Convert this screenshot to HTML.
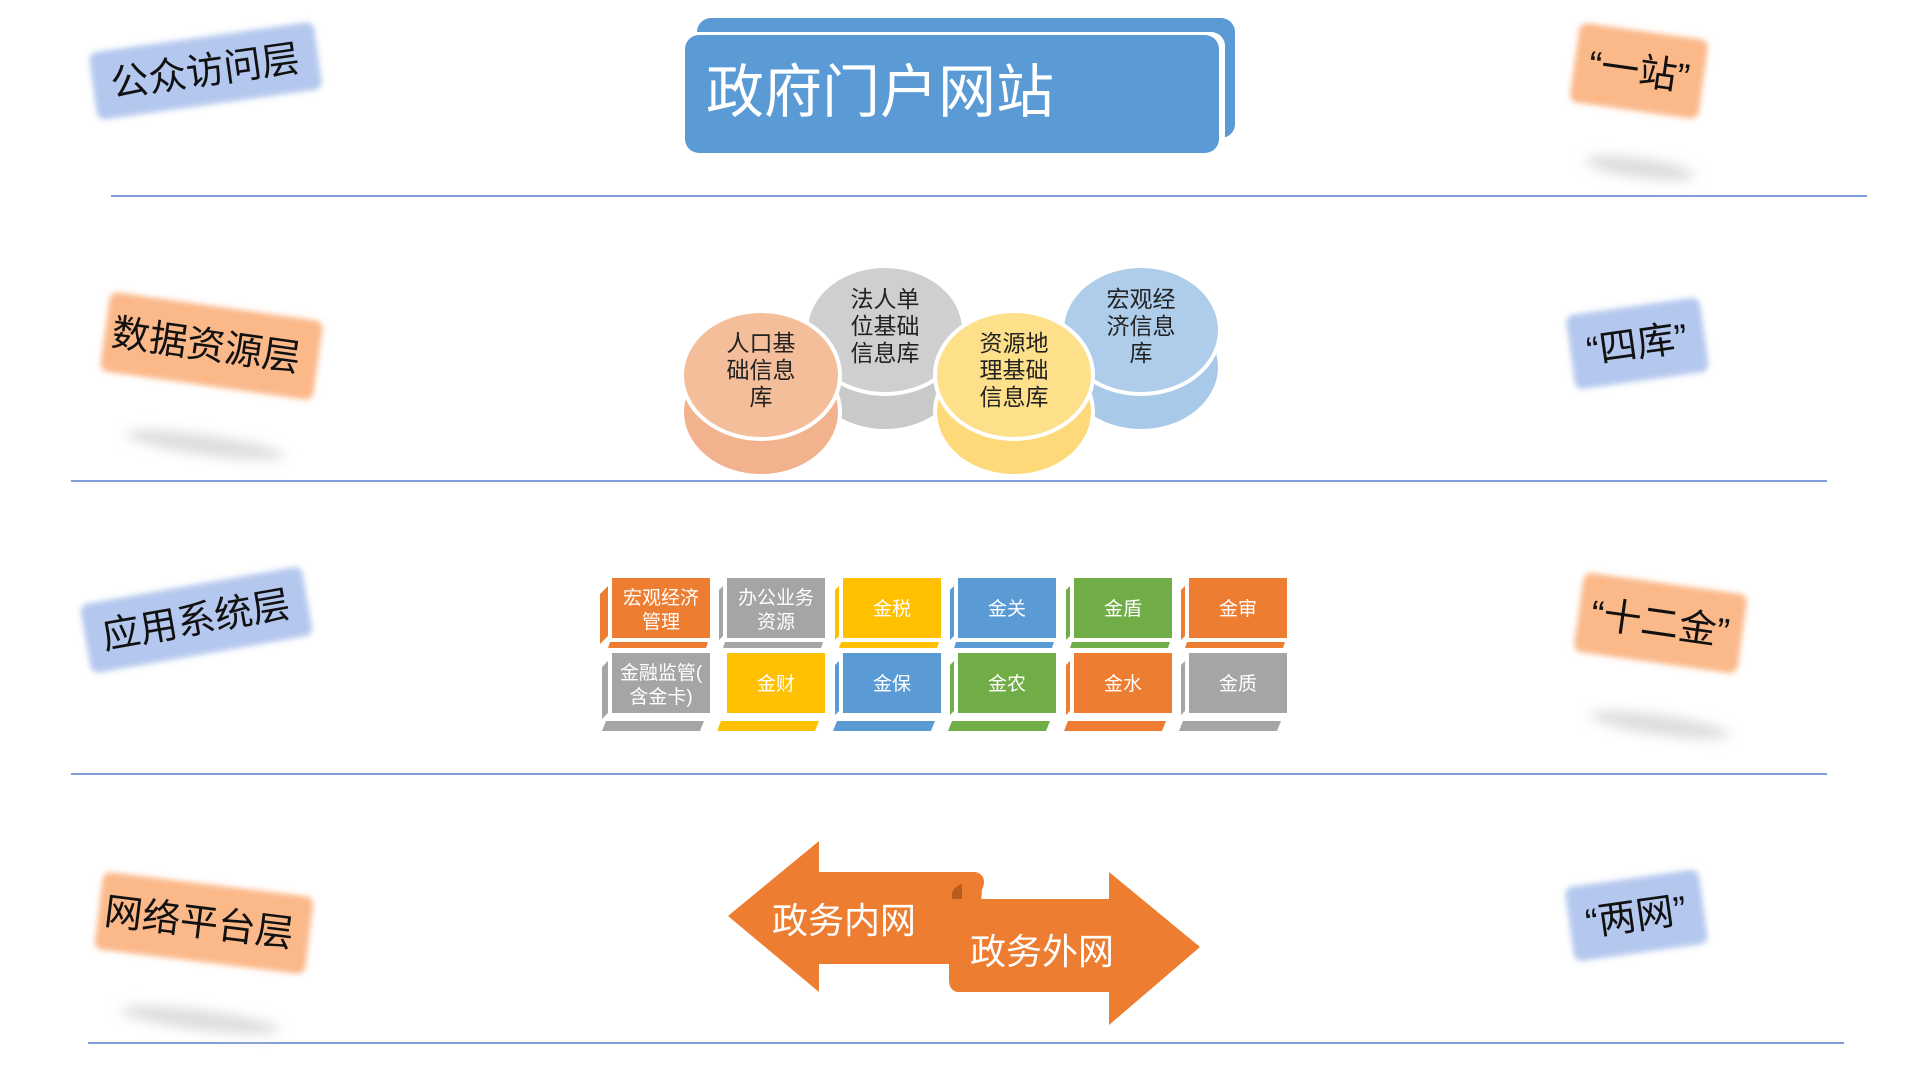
<!DOCTYPE html>
<html><head><meta charset="utf-8"><style>
html,body{margin:0;padding:0;background:#fff;width:1920px;height:1080px;overflow:hidden}
svg text{font-family:"Liberation Sans","Noto Sans CJK SC",sans-serif}
</style></head><body>
<svg width="1920" height="1080" viewBox="0 0 1920 1080" xmlns="http://www.w3.org/2000/svg">
<defs>
<filter id="bl" x="-30%" y="-30%" width="160%" height="160%"><feGaussianBlur stdDeviation="3"/></filter>
<filter id="bl2" x="-30%" y="-60%" width="160%" height="220%"><feGaussianBlur stdDeviation="6"/></filter>
</defs>
<g stroke="#7f9fd8" stroke-width="2">
<line x1="111" y1="196" x2="1867" y2="196"/>
<line x1="71" y1="481" x2="1827" y2="481"/>
<line x1="71" y1="774" x2="1827" y2="774"/>
<line x1="88" y1="1043" x2="1844" y2="1043"/>
</g>

<rect x="697" y="18" width="538" height="120" rx="14" fill="#5b9bd5"/>
<rect x="683" y="32" width="542" height="124" rx="14" fill="#fff"/>
<rect x="685" y="35" width="534" height="118" rx="14" fill="#5b9bd5"/>
<text x="706" y="112" font-size="58" fill="#fff">政府门户网站</text>

<g transform="translate(205,71) rotate(-8)">
<rect x="-113" y="-34" width="227" height="68" rx="8" fill="#b4c7ee" filter="url(#bl)"/>
<text x="0" y="13" font-size="38" text-anchor="middle" fill="#111">公众访问层</text></g>
<g transform="translate(211,346) rotate(8)">
<rect x="-107" y="-40" width="215" height="80" rx="8" fill="#fbb889" filter="url(#bl)"/>
<text x="-5" y="13" font-size="38" text-anchor="middle" fill="#111">数据资源层</text></g>
<ellipse cx="205" cy="445" rx="80" ry="10" fill="#ddd" transform="rotate(8 205 445)" filter="url(#bl2)"/>
<g transform="translate(196,620) rotate(-10)">
<rect x="-112" y="-35" width="225" height="70" rx="8" fill="#b4c7ee" filter="url(#bl)"/>
<text x="0" y="13" font-size="38" text-anchor="middle" fill="#111">应用系统层</text></g>
<g transform="translate(204,923) rotate(7)">
<rect x="-106" y="-39" width="212" height="78" rx="8" fill="#fbb889" filter="url(#bl)"/>
<text x="-5" y="13" font-size="38" text-anchor="middle" fill="#111">网络平台层</text></g>
<ellipse cx="200" cy="1020" rx="80" ry="10" fill="#ddd" transform="rotate(7 200 1020)" filter="url(#bl2)"/>

<g transform="translate(1639,71) rotate(8)">
<rect x="-65" y="-40" width="130" height="80" rx="8" fill="#fbb889" filter="url(#bl)"/>
<text x="0" y="13" font-size="38" text-anchor="middle" fill="#111">“一站”</text></g>
<ellipse cx="1640" cy="168" rx="55" ry="10" fill="#ddd" transform="rotate(8 1640 168)" filter="url(#bl2)"/>
<g transform="translate(1637,344) rotate(-8)">
<rect x="-67" y="-38" width="135" height="75" rx="8" fill="#b4c7ee" filter="url(#bl)"/>
<text x="0" y="13" font-size="38" text-anchor="middle" fill="#111">“四库”</text></g>
<g transform="translate(1660,623) rotate(8)">
<rect x="-82" y="-40" width="165" height="80" rx="8" fill="#fbb889" filter="url(#bl)"/>
<text x="0" y="13" font-size="38" text-anchor="middle" fill="#111">“十二金”</text></g>
<ellipse cx="1660" cy="725" rx="70" ry="10" fill="#ddd" transform="rotate(8 1660 725)" filter="url(#bl2)"/>
<g transform="translate(1636,916) rotate(-8)">
<rect x="-67" y="-38" width="135" height="75" rx="8" fill="#b4c7ee" filter="url(#bl)"/>
<text x="0" y="13" font-size="38" text-anchor="middle" fill="#111">“两网”</text></g>

<g stroke="#fff" stroke-width="4">
<ellipse cx="885" cy="367" rx="79" ry="64" fill="#c9c9c9"/>
<ellipse cx="885" cy="330" rx="79" ry="64" fill="#cfcfcf"/>
<ellipse cx="1141" cy="367" rx="79" ry="64" fill="#a9c9e8"/>
<ellipse cx="1141" cy="330" rx="79" ry="64" fill="#aecdea"/>
<ellipse cx="761" cy="412" rx="79" ry="64" fill="#f2b28e"/>
<ellipse cx="761" cy="375" rx="79" ry="64" fill="#f4be9a"/>
<ellipse cx="1014" cy="412" rx="79" ry="64" fill="#fdd97a"/>
<ellipse cx="1014" cy="375" rx="79" ry="64" fill="#fee08a"/>
</g>
<g font-size="23" fill="#222" text-anchor="middle">
<text x="885" y="307">法人单</text><text x="885" y="334">位基础</text><text x="885" y="361">信息库</text>
<text x="1141" y="307">宏观经</text><text x="1141" y="334">济信息</text><text x="1141" y="361">库</text>
<text x="761" y="351">人口基</text><text x="761" y="378">础信息</text><text x="761" y="405">库</text>
<text x="1014" y="351">资源地</text><text x="1014" y="378">理基础</text><text x="1014" y="405">信息库</text>
</g>

<g font-size="19" fill="#fff" text-anchor="middle">
<g transform="translate(612,578)"><path d="M-4,8 L-12,16 L-12,66 L-4,58Z" fill="#ed7d31"/><rect width="98" height="60" fill="#ed7d31"/><path d="M-2,64 L96,64 L94,70 L-4,70Z" fill="#ed7d31"/><text x="49" y="26">宏观经济</text><text x="49" y="50">管理</text></g>
<g transform="translate(727,578)"><path d="M-4,8 L-8,12 L-8,62 L-4,58Z" fill="#a5a5a5"/><rect width="98" height="60" fill="#a5a5a5"/><path d="M-2,64 L96,64 L94,70 L-4,70Z" fill="#a5a5a5"/><text x="49" y="26">办公业务</text><text x="49" y="50">资源</text></g>
<g transform="translate(843,578)"><path d="M-4,8 L-8,12 L-8,62 L-4,58Z" fill="#ffc000"/><rect width="98" height="60" fill="#ffc000"/><path d="M-2,64 L96,64 L94,70 L-4,70Z" fill="#ffc000"/><text x="49" y="37">金税</text></g>
<g transform="translate(958,578)"><path d="M-4,8 L-8,12 L-8,62 L-4,58Z" fill="#5b9bd5"/><rect width="98" height="60" fill="#5b9bd5"/><path d="M-2,64 L96,64 L94,70 L-4,70Z" fill="#5b9bd5"/><text x="49" y="37">金关</text></g>
<g transform="translate(1074,578)"><path d="M-4,8 L-8,12 L-8,62 L-4,58Z" fill="#70ad47"/><rect width="98" height="60" fill="#70ad47"/><path d="M-2,64 L96,64 L94,70 L-4,70Z" fill="#70ad47"/><text x="49" y="37">金盾</text></g>
<g transform="translate(1189,578)"><path d="M-4,8 L-8,12 L-8,62 L-4,58Z" fill="#ed7d31"/><rect width="98" height="60" fill="#ed7d31"/><path d="M-2,64 L96,64 L94,70 L-4,70Z" fill="#ed7d31"/><text x="49" y="37">金审</text></g>
<g transform="translate(612,653)"><path d="M-4,8 L-10,14 L-10,66 L-4,60Z" fill="#a5a5a5"/><rect width="98" height="60" fill="#a5a5a5"/><path d="M-6,68 L92,68 L88,78 L-10,78Z" fill="#a5a5a5"/><text x="49" y="26">金融监管(</text><text x="49" y="50">含金卡)</text></g>
<g transform="translate(727,653)"><rect width="98" height="60" fill="#ffc000"/><path d="M-6,68 L92,68 L88,78 L-10,78Z" fill="#ffc000"/><text x="49" y="37">金财</text></g>
<g transform="translate(843,653)"><path d="M-4,8 L-8,12 L-8,62 L-4,58Z" fill="#5b9bd5"/><rect width="98" height="60" fill="#5b9bd5"/><path d="M-6,68 L92,68 L88,78 L-10,78Z" fill="#5b9bd5"/><text x="49" y="37">金保</text></g>
<g transform="translate(958,653)"><path d="M-4,8 L-8,12 L-8,62 L-4,58Z" fill="#70ad47"/><rect width="98" height="60" fill="#70ad47"/><path d="M-6,68 L92,68 L88,78 L-10,78Z" fill="#70ad47"/><text x="49" y="37">金农</text></g>
<g transform="translate(1074,653)"><path d="M-4,8 L-8,12 L-8,62 L-4,58Z" fill="#ed7d31"/><rect width="98" height="60" fill="#ed7d31"/><path d="M-6,68 L92,68 L88,78 L-10,78Z" fill="#ed7d31"/><text x="49" y="37">金水</text></g>
<g transform="translate(1189,653)"><path d="M-4,8 L-8,12 L-8,62 L-4,58Z" fill="#a5a5a5"/><rect width="98" height="60" fill="#a5a5a5"/><path d="M-6,68 L92,68 L88,78 L-10,78Z" fill="#a5a5a5"/><text x="49" y="37">金质</text></g>
</g>

<path d="M728,916 L819,841 L819,872 L976,872 Q988,876 982,890 L976,964 L819,964 L819,992 Z" fill="#ed7d31"/>
<path d="M949,899 L1109,899 L1109,872 L1200,947 L1109,1025 L1109,992 L957,992 Q949,990 949,980 Z" fill="#ed7d31"/>
<path d="M962,884 Q950,888 952,899 L962,899Z" fill="#b85d20"/>
<text x="772" y="933" font-size="36" fill="#fff">政务内网</text>
<text x="970" y="964" font-size="36" fill="#fff">政务外网</text>
</svg>
</body></html>
